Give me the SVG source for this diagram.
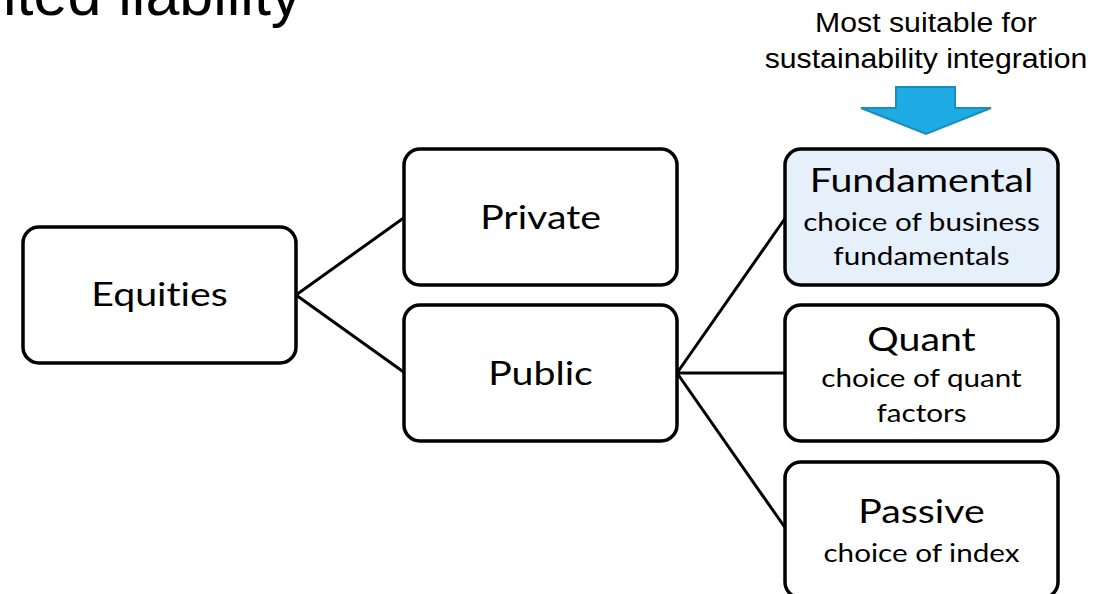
<svg xmlns="http://www.w3.org/2000/svg" width="1110" height="594" viewBox="0 0 1110 594">
  <style>
    .box { fill: #ffffff; stroke: #000000; stroke-width: 3.5; }
    .hl { fill: #e6f0fa; }
    .lbl { font-family: Lato, "Open Sans", sans-serif; fill: #000000; text-anchor: middle; font-variant-ligatures: none; }
    .big { font-size: 33px; }
    .small { font-size: 24.5px; }
    .link { stroke: #000000; stroke-width: 3; fill: none; }
    .note { font-family: "Liberation Sans", Arial, sans-serif; font-size: 27px; fill: #000000; text-anchor: middle; }
  </style>
  <rect width="1110" height="594" fill="#ffffff"/>

  <!-- page heading (runs off the top edge) -->
  <text x="3" y="15" font-family="'Liberation Sans', Arial, sans-serif" font-size="61" fill="#000000">ited liability</text>

  <!-- callout above the fundamental box -->
  <g id="callout">
    <text class="note" transform="translate(926 32) scale(1.12 1)">Most suitable for</text>
    <text class="note" transform="translate(926 68) scale(1.12 1)">sustainability integration</text>
    <path d="M896 87 H955 V108 H991 L926 134 L861 108 H896 Z" fill="#1eaae2" stroke="#1b8dbc" stroke-width="2" stroke-linejoin="miter"/>
  </g>

  <!-- tree branches -->
  <g id="connectors">
    <line class="link" x1="296" y1="295" x2="405" y2="217"/>
    <line class="link" x1="296" y1="295" x2="405" y2="373"/>
    <line class="link" x1="677" y1="373" x2="786" y2="217"/>
    <line class="link" x1="677" y1="373" x2="786" y2="373"/>
    <line class="link" x1="677" y1="373" x2="786" y2="529"/>
  </g>

  <g id="equities">
    <rect class="box" x="23" y="227" width="273" height="136" rx="16"/>
    <text class="lbl big" transform="translate(159.5 306) scale(1.19 1)">Equities</text>
  </g>

  <g id="private">
    <rect class="box" x="404" y="149" width="273" height="136" rx="16"/>
    <text class="lbl big" transform="translate(540.5 229) scale(1.19 1)">Private</text>
  </g>

  <g id="public">
    <rect class="box" x="404" y="305" width="273" height="136" rx="16"/>
    <text class="lbl big" transform="translate(540.5 385) scale(1.19 1)">Public</text>
  </g>

  <g id="fundamental">
    <rect class="box hl" x="785" y="149" width="273" height="136" rx="16"/>
    <text class="lbl big" transform="translate(921.5 192) scale(1.19 1)">Fundamental</text>
    <text class="lbl small" transform="translate(921.5 231) scale(1.21 1)">choice of business</text>
    <text class="lbl small" transform="translate(921.5 265) scale(1.21 1)">fundamentals</text>
  </g>

  <g id="quant">
    <rect class="box" x="785" y="305" width="273" height="136" rx="16"/>
    <text class="lbl big" transform="translate(921.5 351) scale(1.19 1)">Quant</text>
    <text class="lbl small" transform="translate(921.5 387) scale(1.21 1)">choice of quant</text>
    <text class="lbl small" transform="translate(921.5 422) scale(1.21 1)">factors</text>
  </g>

  <g id="passive">
    <rect class="box" x="785" y="462" width="273" height="136" rx="16"/>
    <text class="lbl big" transform="translate(921.5 523) scale(1.19 1)">Passive</text>
    <text class="lbl small" transform="translate(921.5 562) scale(1.21 1)">choice of index</text>
  </g>
</svg>
